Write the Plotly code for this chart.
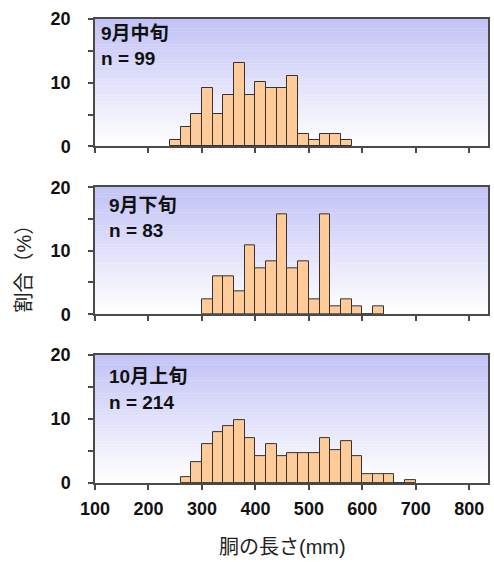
import plotly.graph_objects as go
from plotly.subplots import make_subplots

# ---- data (percent per 20 mm bin, bin left edges in mm) ----
bins_sep_mid = [240, 260, 280, 300, 320, 340, 360, 380, 400, 420, 440, 460, 480, 500, 520, 540, 560]
pct_sep_mid = [1.0, 3.0, 5.1, 9.1, 5.1, 8.1, 13.1, 8.1, 10.1, 9.1, 9.1, 11.1, 2.0, 1.0, 2.0, 2.0, 1.0]

bins_sep_late = [300, 320, 340, 360, 380, 400, 420, 440, 460, 480, 500, 520, 540, 560, 580, 600, 620]
pct_sep_late = [2.4, 6.0, 6.0, 3.6, 10.8, 7.2, 8.4, 15.7, 7.2, 8.4, 2.4, 15.7, 1.2, 2.4, 1.2, 0.0, 1.2]

bins_oct_early = [260, 280, 300, 320, 340, 360, 380, 400, 420, 440, 460, 480, 500, 520, 540, 560, 580, 600, 620, 640, 660, 680]
pct_oct_early = [0.9, 3.3, 6.1, 7.9, 8.9, 9.8, 7.0, 4.2, 6.1, 4.2, 4.7, 4.7, 4.7, 7.0, 5.1, 6.5, 4.2, 1.4, 1.4, 1.4, 0.0, 0.5]

panel_labels = ["9月中旬", "9月下旬", "10月上旬"]
panel_n = ["n = 99", "n = 83", "n = 214"]

x_tickvals = [100, 200, 300, 400, 500, 600, 700, 800]
y_tickvals = [0, 5, 10, 15, 20]
y_ticktext = ["0", "", "10", "", "20"]

x_title = "胴の長さ(mm)"
y_title = "割合（%）"

BIN_WIDTH = 20

FONT = "Liberation Sans, Arial, Noto Sans CJK JP, sans-serif"
BAR_FILL = "#FFCC99"
BAR_LINE = "#333333"
AXIS_COLOR = "#4a4a4a"

fig = make_subplots(rows=3, cols=1, shared_xaxes=False)

series = [(bins_sep_mid, pct_sep_mid), (bins_sep_late, pct_sep_late), (bins_oct_early, pct_oct_early)]
for i, (bx, py) in enumerate(series, start=1):
    fig.add_trace(go.Bar(x=bx, y=py, width=BIN_WIDTH, offset=0,
                         marker=dict(color=BAR_FILL, line=dict(color=BAR_LINE, width=1)),
                         showlegend=False, hoverinfo="x+y"), row=i, col=1)

tickfont = dict(family=FONT, size=18, color="#111", weight="bold")

domains = [[0.7255, 1.0], [0.3638, 0.6372], [0.0, 0.2756]]
for i, d in enumerate(domains, start=1):
    yname = "yaxis" if i == 1 else f"yaxis{i}"
    xname = "xaxis" if i == 1 else f"xaxis{i}"
    fig.layout[yname].update(domain=d, range=[0, 20], tickvals=y_tickvals, ticktext=y_ticktext,
                             ticks="outside", ticklen=5, tickwidth=1.5, tickcolor=AXIS_COLOR,
                             showline=True, linecolor=AXIS_COLOR, linewidth=1.5, mirror=True,
                             showgrid=False, zeroline=False, ticklabelstandoff=14,
                             tickfont=tickfont)
    fig.layout[xname].update(range=[100, 835], tickvals=x_tickvals,
                             showticklabels=(i == 3),
                             ticks="outside", ticklen=5, tickwidth=1.5, tickcolor=AXIS_COLOR,
                             showline=True, linecolor=AXIS_COLOR, linewidth=1.5, mirror=True,
                             showgrid=False, zeroline=False, ticklabelstandoff=4,
                             tickfont=tickfont)

# gradient backgrounds (style only)
shapes = []
N = 40
top = (194, 194, 246)
bot = (255, 255, 255)
for i in range(1, 4):
    xr = "x domain" if i == 1 else f"x{i} domain"
    yr = "y domain" if i == 1 else f"y{i} domain"
    for k in range(N):
        t = k / (N - 1)
        c = tuple(int(round(top[j] + (bot[j] - top[j]) * t)) for j in range(3))
        y1 = 1 - k / N
        y0 = 1 - (k + 1) / N
        shapes.append(dict(type="rect", xref=xr, yref=yr, x0=0, x1=1, y0=y0, y1=y1 + 0.002,
                           fillcolor=f"rgb{c}", line=dict(width=0), layer="below"))

annotations = []
label_pos = [(0.01, 0.886, 0.69), (0.03, 0.858, 0.661), (0.03, 0.836, 0.633)]
lab_font = dict(family=FONT, size=19, color="#111", weight="bold")
for i, (lab, n) in enumerate(zip(panel_labels, panel_n), start=1):
    xr = "x domain" if i == 1 else f"x{i} domain"
    yr = "y domain" if i == 1 else f"y{i} domain"
    xp, y1, y2 = label_pos[i - 1]
    annotations.append(dict(text=lab, xref=xr, yref=yr, x=xp, y=y1, xanchor="left",
                            yanchor="middle", showarrow=False, font=lab_font))
    annotations.append(dict(text=n, xref=xr, yref=yr, x=xp, y=y2, xanchor="left",
                            yanchor="middle", showarrow=False, font=lab_font))

annotations.append(dict(text=x_title, xref="paper", yref="paper", x=0.478, y=-0.139,
                        xanchor="center", yanchor="middle", showarrow=False,
                        font=dict(family=FONT, size=20, color="#222")))
annotations.append(dict(text=y_title, xref="paper", yref="paper", x=-0.18, y=0.4736,
                        xanchor="center", yanchor="middle", showarrow=False, textangle=-90,
                        font=dict(family=FONT, size=20, color="#222")))

fig.update_layout(width=494, height=562, margin=dict(l=95, r=4, t=18.5, b=79),
                  paper_bgcolor="white", plot_bgcolor="white", bargap=0,
                  shapes=shapes, annotations=annotations,
                  font=dict(family=FONT))

fig.write_html("out.html", config={"displayModeBar": False},
               post_script="document.body.style.margin='0';")
